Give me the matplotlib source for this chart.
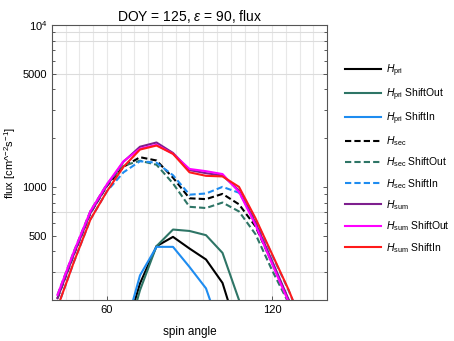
import matplotlib
matplotlib.use("Agg")
import matplotlib.pyplot as plt
import matplotlib.ticker as mticker
import numpy as np

plt.rcParams['font.family'] = ['Liberation Sans', 'DejaVu Sans']
plt.rcParams['mathtext.fontset'] = 'custom'
plt.rcParams['mathtext.rm'] = 'Liberation Sans'
plt.rcParams['mathtext.it'] = 'Liberation Sans:italic'

# spin angle grid
spin = [42, 48, 54, 60, 66, 72, 78, 84, 90, 96, 102, 108, 114, 120, 126, 132]

# primary component
h_pri = [40, 50, 60, 80, 115, 253, 430, 491, 416, 356, 255, 120, 60, 40, 30, 20]
h_pri_out = [30, 40, 55, 70, 100, 230, 430, 545, 534, 503, 391, 200, 90, 50, 30, 20]
h_pri_in = [40, 50, 60, 80, 122, 284, 426, 426, 320, 236, 120, 60, 40, 30, 20, 15]

# secondary component
h_sec = [205, 385, 690, 1015, 1330, 1525, 1455, 1140, 850, 840, 905, 780, 570, 340, 200, 110]
h_sec_out = [215, 400, 710, 1040, 1350, 1450, 1370, 1050, 753, 740, 800, 705, 510, 306, 192, 104]
h_sec_in = [180, 345, 630, 940, 1230, 1440, 1410, 1180, 895, 910, 1000, 920, 630, 380, 230, 130]

# sum
h_sum = [205, 385, 690, 1020, 1430, 1770, 1880, 1620, 1270, 1215, 1175, 950, 600, 350, 202, 110]
h_sum_out = [215, 400, 710, 1040, 1440, 1720, 1820, 1600, 1290, 1250, 1200, 930, 580, 335, 195, 105]
h_sum_in = [180, 345, 630, 940, 1330, 1700, 1800, 1600, 1230, 1170, 1160, 1000, 640, 385, 232, 130]

series = [
    (h_pri, 'k', '-', r'$H_{\rm pri}$'),
    (h_pri_out, '#2e7566', '-', r'$H_{\rm pri}$ ShiftOut'),
    (h_pri_in, '#1e8cf0', '-', r'$H_{\rm pri}$ ShiftIn'),
    (h_sec, 'k', '--', r'$H_{\rm sec}$'),
    (h_sec_out, '#2e7566', '--', r'$H_{\rm sec}$ ShiftOut'),
    (h_sec_in, '#1e8cf0', '--', r'$H_{\rm sec}$ ShiftIn'),
    (h_sum, '#7e1f8e', '-', r'$H_{\rm sum}$'),
    (h_sum_out, '#ff00ff', '-', r'$H_{\rm sum}$ ShiftOut'),
    (h_sum_in, '#ff1a1a', '-', r'$H_{\rm sum}$ ShiftIn'),
]

fig = plt.figure(figsize=(4.54, 3.41), dpi=100)
ax = fig.add_axes([0.1145, 0.1202, 0.6058, 0.8065])

# grid as in the reference
for gx in range(45, 140, 5):
    ax.axvline(gx, color='#e8e8e8', lw=0.8, zorder=0)
for gy in [300, 700, 5000, 8000, 9000]:
    ax.axhline(gy, color='#dcdcdc', lw=0.8, zorder=0)

for vals, col, ls, lab in series:
    ax.plot(spin, vals, color=col, ls=ls, lw=1.5, label=lab,
            dashes=(3, 1.5) if ls == '--' else (None, None))

ax.set_yscale('log')
ax.set_xlim(40, 140)
ax.set_ylim(200, 1e4)
ax.set_xticks([60, 120])
ax.yaxis.set_major_locator(mticker.FixedLocator([500, 1000, 5000, 10000]))
ax.yaxis.set_major_formatter(mticker.FixedFormatter(['500', '1000', '5000', r'$10^4$']))
ax.yaxis.set_minor_locator(mticker.LogLocator(subs=np.arange(2, 10)))
ax.yaxis.set_minor_formatter(mticker.NullFormatter())
ax.tick_params(which='both', direction='in', labelsize=8, right=True, top=False,
               length=3, width=0.6, colors='#404040', labelcolor='k')
ax.tick_params(which='minor', length=2)
for s in ax.spines.values():
    s.set_color('#555555')
    s.set_linewidth(0.8)

ax.set_title(r'DOY = 125, $\varepsilon$ = 90, flux', fontsize=10, pad=3)
ax.set_xlabel('spin angle', fontsize=8.5, labelpad=8)
ax.set_ylabel(r'flux [cm^$^{-2}$s$^{-1}$]', fontsize=8, labelpad=3)

leg = ax.legend(loc='upper left', bbox_to_anchor=(1.04, 0.89), frameon=False,
                fontsize=7.5, handlelength=3.4, labelspacing=0.72, handletextpad=0.5,
                borderaxespad=0.3)

fig.savefig('out.png', dpi=100)
